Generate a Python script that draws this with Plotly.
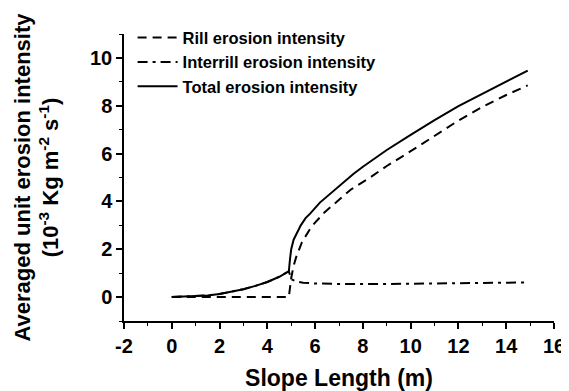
import plotly.graph_objects as go

# Total erosion intensity
total_x = [0, 1, 1.5, 2, 2.5, 3, 3.5, 4, 4.5, 4.9, 4.95, 5.0, 5.1, 5.25, 5.4, 5.6, 5.8, 6.2, 7, 7.6, 8, 9, 10, 11, 12, 13, 14, 14.9]
total_y = [0, 0.03, 0.07, 0.13, 0.22, 0.33, 0.47, 0.63, 0.85, 1.08, 1.6, 2.0, 2.4, 2.7, 3.0, 3.3, 3.5, 3.95, 4.65, 5.15, 5.45, 6.15, 6.78, 7.4, 7.98, 8.5, 9.0, 9.47]

# Rill erosion intensity
rill_x = [0, 4.9, 4.95, 5.0, 5.1, 5.2, 5.45, 5.67, 5.85, 6.4, 6.9, 7.5, 8.3, 9, 10, 11, 12, 13, 14, 14.9]
rill_y = [0, 0, 0.4, 0.8, 1.3, 1.65, 2.3, 2.65, 2.95, 3.55, 4.0, 4.5, 5.0, 5.48, 6.1, 6.75, 7.38, 7.95, 8.45, 8.85]

# Interrill erosion intensity
inter_x = [0, 1, 1.5, 2, 2.5, 3, 3.5, 4, 4.5, 4.9, 5.0, 5.2, 5.5, 6, 7, 8, 9, 10, 11, 12, 13, 14, 14.9]
inter_y = [0, 0.03, 0.07, 0.13, 0.22, 0.33, 0.47, 0.63, 0.85, 1.08, 0.75, 0.66, 0.6, 0.57, 0.55, 0.54, 0.55, 0.56, 0.57, 0.58, 0.59, 0.6, 0.61]

x_ticks = [-2, 0, 2, 4, 6, 8, 10, 12, 14, 16]
x_ticktext = ["-2", "0", "2", "4", "6", "8", "10", "12", "14", "16"]
y_ticks = [0, 2, 4, 6, 8, 10]
y_ticktext = ["0", "2", "4", "6", "8", "10"]

FONT = "Arial, Liberation Sans, sans-serif"

fig = go.Figure()
fig.add_trace(go.Scatter(x=inter_x, y=inter_y, mode="lines", name="Interrill erosion intensity",
                         legendrank=2,
                         line=dict(color="black", width=2, dash="10px,5px,3px,5px")))
fig.add_trace(go.Scatter(x=rill_x, y=rill_y, mode="lines", name="Rill erosion intensity",
                         legendrank=1,
                         line=dict(color="black", width=2, dash="9px,6px")))
fig.add_trace(go.Scatter(x=total_x, y=total_y, mode="lines", name="Total erosion intensity",
                         legendrank=3,
                         line=dict(color="black", width=2)))

fig.update_layout(
    width=569, height=391,
    margin=dict(l=116, r=21, t=19, b=69),
    paper_bgcolor="white", plot_bgcolor="white",
    font=dict(family=FONT, color="black"),
    legend=dict(x=0.02, y=1.048, xanchor="left", yanchor="top",
                traceorder="normal",
                font=dict(size=16.5, family=FONT, weight="bold"),
                bgcolor="rgba(0,0,0,0)", tracegroupgap=0, itemwidth=40),
    xaxis=dict(range=[-2, 16], tickvals=x_ticks, ticktext=x_ticktext,
               showline=True, linecolor="black", linewidth=1.5,
               ticks="outside", ticklen=6, tickwidth=1.5, tickcolor="black",
               minor=dict(dtick=1, ticks="outside", ticklen=3, tickwidth=1.2, tickcolor="black"),
               showgrid=False, zeroline=False,
               tickfont=dict(size=20, family=FONT, weight="bold"),
               title=dict(text="Slope Length (m)", font=dict(size=23, family=FONT, weight="bold"), standoff=14)),
    yaxis=dict(range=[-1, 11], tickvals=y_ticks, ticktext=y_ticktext,
               showline=True, linecolor="black", linewidth=1.5,
               ticks="outside", ticklen=6, tickwidth=1.5, tickcolor="black",
               minor=dict(dtick=1, ticks="outside", ticklen=3, tickwidth=1.2, tickcolor="black"),
               showgrid=False, zeroline=False,
               tickfont=dict(size=20, family=FONT, weight="bold"),
               title=dict(text="Averaged unit erosion intensity<br>(10<sup>-3</sup> Kg m<sup>-2</sup> s<sup>-1</sup>)",
                          font=dict(size=22, family=FONT, weight="bold"), standoff=25)),
)

fig.write_html("out.html")
